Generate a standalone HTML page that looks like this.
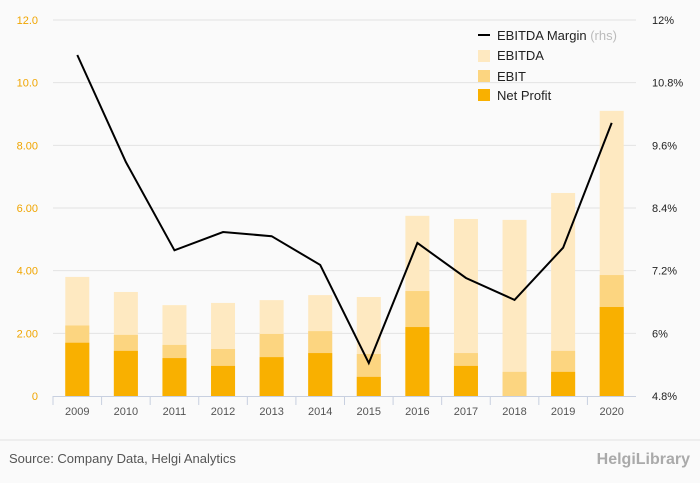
<!DOCTYPE html>
<html><head><meta charset="utf-8"><style>
body{margin:0;background:#fafafa;font-family:"Liberation Sans",sans-serif;}
svg{display:block}
</style></head><body>
<svg id="c" width="700" height="483">
<rect width="700" height="483" fill="#fafafa"/>
<g id="grid"></g><g id="bars"></g><g id="line"></g><g id="axes"></g>
<g font-size="13" fill="#222">
<line x1="478" y1="35" x2="490" y2="35" stroke="#000" stroke-width="2"/>
<text x="497" y="40">EBITDA Margin <tspan fill="#bbb">(rhs)</tspan></text>
<rect x="478" y="50" width="12" height="12" fill="#fee9c1"/>
<text x="497" y="60">EBITDA</text>
<rect x="478" y="70" width="12" height="12" fill="#fcd580"/>
<text x="497" y="81">EBIT</text>
<rect x="478" y="89" width="12" height="12" fill="#f9b000"/>
<text x="497" y="100">Net Profit</text>
</g>
<line x1="0" y1="440" x2="700" y2="440" stroke="#e2e2e2"/>
<text x="9" y="463" font-size="13" fill="#555">Source: Company Data, Helgi Analytics</text>
<text x="690" y="464" font-size="16" fill="#aaa" text-anchor="end" font-weight="bold">HelgiLibrary</text>
</svg>
<script>
const years=["2009","2010","2011","2012","2013","2014","2015","2016","2017","2018","2019","2020"];
const ebitda=[3.8,3.32,2.9,2.97,3.06,3.22,3.16,5.75,5.65,5.62,6.48,9.1];
const ebit=[2.25,1.95,1.63,1.5,1.98,2.07,1.34,3.35,1.37,0.77,1.44,3.86];
const netProfit=[1.7,1.44,1.21,0.96,1.24,1.37,0.61,2.2,0.96,0,0.77,2.84];
const margin=[11.33,9.28,7.59,7.94,7.86,7.31,5.43,7.73,7.06,6.64,7.64,10.03];
const leftTicks=["0","2.00","4.00","6.00","8.00","10.0","12.0"];
const rightTicks=["4.8%","6%","7.2%","8.4%","9.6%","10.8%","12%"];
const NS="http://www.w3.org/2000/svg";
const X0=53,X1=636,Y0=396,Y1=20;
const step=(X1-X0)/years.length;
const xc=i=>X0+step*(i+0.5);
const yL=v=>Y0-(v/12)*(Y0-Y1);
const yR=v=>Y0-((v-4.8)/7.2)*(Y0-Y1);
function mk(tag,attrs,parent){const e=document.createElementNS(NS,tag);for(const k in attrs)e.setAttribute(k,attrs[k]);document.getElementById(parent).appendChild(e);return e;}
leftTicks.forEach((t,i)=>{const y=Y0-i*(Y0-Y1)/6;
 if(i>0){const g=mk("line",{x1:X0,x2:X1,y1:y,y2:y,stroke:"#e3e3e3"},"grid");}
 const a=mk("text",{x:38,y:y+4,"font-size":11,fill:"#f0a500","text-anchor":"end"},"axes");a.textContent=t;
 
 const b=mk("text",{x:652,y:y+4,"font-size":11,fill:"#222"},"axes");b.textContent=rightTicks[i];
 });
const ax=mk("line",{x1:X0,x2:X1,y1:Y0+0.5,y2:Y0+0.5,stroke:"#c8d0e0"},"axes");

years.forEach((yr,i)=>{
 const tx=X0+step*i;
 const tk=mk("line",{x1:tx,x2:tx,y1:Y0,y2:Y0+9,stroke:"#c8d0e0"},"axes");
 
 const l=mk("text",{x:xc(i),y:415,"font-size":11,fill:"#555","text-anchor":"middle"},"axes");l.textContent=yr;
 
 [[ebitda,"#fee9c1","bar-ebitda"],[ebit,"#fcd580","bar-ebit"],[netProfit,"#f9b000","bar-net-profit"]].forEach(([arr,col,nm])=>{
  const r=mk("rect",{x:xc(i)-12,width:24,y:yL(arr[i]),height:Y0-yL(arr[i]),fill:col},"bars");
  });
});
const p=mk("polyline",{points:margin.map((m,i)=>xc(i)+","+yR(m)).join(" "),fill:"none",stroke:"#000","stroke-width":2},"line");

</script>
</body></html>
